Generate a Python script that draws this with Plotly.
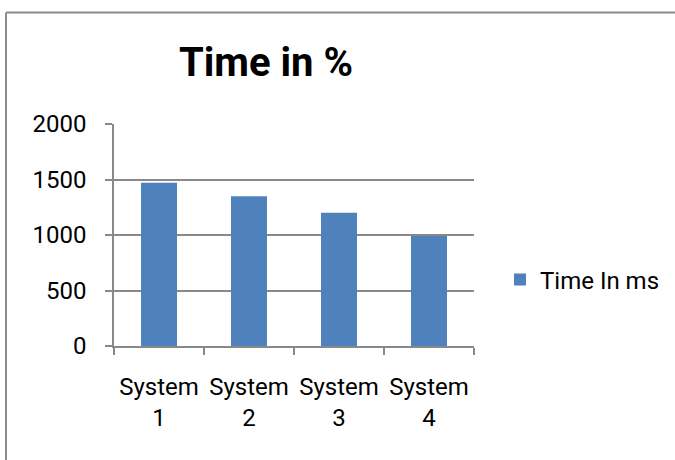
import plotly.graph_objects as go

# Chart data
categories = ["System<br>1", "System<br>2", "System<br>3", "System<br>4"]
time_ms = [1470, 1350, 1200, 990]
series_name = "Time In ms"
y_ticks = [0, 500, 1000, 1500, 2000]

FONT = "Roboto, Liberation Sans, sans-serif"
GRID = "#898989"
BAR = "#4f81bd"

W, H = 675, 460
L, R, T, B = 114, 201, 124, 114
pw, ph = W - L - R, H - T - B

def px_to_paper_x(px):
    return (px - L) / pw

def px_to_paper_y(py):
    return (H - B - py) / ph

fig = go.Figure()
fig.add_trace(go.Bar(
    x=categories,
    y=time_ms,
    name=series_name,
    marker=dict(color=BAR, line=dict(width=0)),
    showlegend=True,
))

# outer chart frame (left and top edges)
frame_x = px_to_paper_x(6)
frame_top = px_to_paper_y(12.5)
fig.add_shape(type="line", xref="paper", yref="paper",
              x0=frame_x, x1=frame_x, y0=px_to_paper_y(470), y1=frame_top,
              line=dict(color="#8c8c8c", width=2))
fig.add_shape(type="line", xref="paper", yref="paper",
              x0=frame_x, x1=px_to_paper_x(690), y0=frame_top, y1=frame_top,
              line=dict(color="#8c8c8c", width=2))

fig.update_layout(
    width=W, height=H,
    margin=dict(l=L, r=R, t=T, b=B, autoexpand=False),
    paper_bgcolor="white",
    plot_bgcolor="white",
    bargap=0.6,
    font=dict(family=FONT, size=24, color="#000000"),
    title=dict(
        text="<b>Time in %</b>",
        font=dict(family=FONT, size=40, color="#000000"),
        xref="paper", x=px_to_paper_x(266), xanchor="center",
        yref="container", y=1 - 62 / H, yanchor="middle",
        automargin=False,
    ),
    legend=dict(
        x=px_to_paper_x(500), xanchor="left",
        y=px_to_paper_y(280), yanchor="middle",
        font=dict(family=FONT, size=24, color="#000000"),
        bgcolor="rgba(0,0,0,0)",
    ),
    xaxis=dict(
        type="category",
        automargin=False,
        tickangle=0,
        showline=True, linecolor=GRID, linewidth=1.5,
        ticks="outside", tickson="boundaries", ticklen=7,
        tickcolor=GRID, tickwidth=1.5,
        showgrid=False,
        ticklabelstandoff=18,
        tickfont=dict(family=FONT, size=24),
    ),
    yaxis=dict(
        automargin=False,
        range=[0, 2000],
        tickvals=y_ticks,
        ticktext=[str(v) for v in y_ticks],
        showline=True, linecolor=GRID, linewidth=1.5,
        ticks="outside", ticklen=7, tickcolor=GRID, tickwidth=1.5,
        showgrid=True, gridcolor=GRID, gridwidth=1.5,
        zeroline=False,
        ticklabelstandoff=14,
        tickfont=dict(family=FONT, size=24),
    ),
)

fig.write_html("out.html")
